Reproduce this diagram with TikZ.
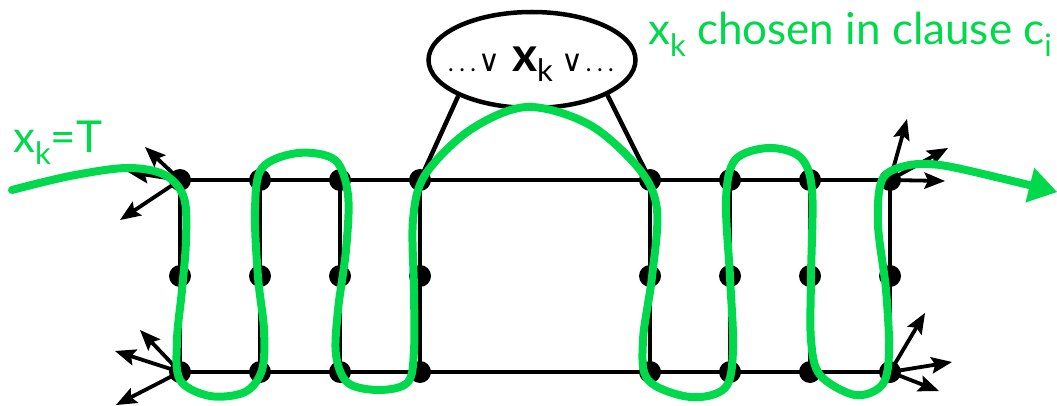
\documentclass[tikz,border=0pt]{standalone}
\usepackage{fontspec}
\setmainfont{Lato}
\newfontfamily\symfont{DejaVu Sans}
\usetikzlibrary{arrows.meta,shapes.geometric}
\definecolor{grn}{RGB}{0,217,76}
\newcommand{\gsub}[1]{\raisebox{-12pt}{\fontsize{31}{31}\selectfont #1}}
\newcommand{\smalldots}{{.}\hspace{5.5pt}{.}\hspace{5.5pt}{.}}
\newcommand{\orsym}{{\symfont\fontsize{30}{30}\selectfont ∨}}
\begin{document}
\begin{tikzpicture}[x=1pt,y=-1pt,
  edge/.style={line width=4.5pt},
  gdot/.style={circle,fill=black,draw=none,inner sep=0pt,minimum width=22pt,minimum height=22pt},
  outarrow/.style={line width=3.8pt,-{Stealth[length=21pt,width=17pt,inset=4pt,line width=0pt]}},
  cycle path/.style={grn,line width=8pt,line cap=round,-{Triangle[length=28pt,width=36pt,line width=0pt]}},
  lbl/.style={text=grn,inner sep=0pt,anchor=base west}]
\useasboundingbox (0,0) rectangle (1057,406);
% grid coordinates
\foreach \i/\x in {1/180,2/260,3/340,4/420,5/650,6/730,7/810,8/890}{
  \coordinate (t\i) at (\x,180);
  \coordinate (m\i) at (\x,276);
  \coordinate (b\i) at (\x,372);
}
\draw[edge] (t1) -- (t8);
\draw[edge] (b1) -- (b8);
\foreach \i in {1,...,8}{\draw[edge] (t\i) -- (b\i);}
% clause ellipse
\node[draw,ellipse,line width=4.5pt,fill=white,minimum width=207pt,minimum height=96pt,inner sep=0pt] (cl) at (532,60) {};
\draw[edge] (cl.206) -- (t4);
\draw[edge] (cl.-25) -- (t5);
\node[anchor=base,inner sep=0pt] (lit) at (531,72) {\fontsize{24}{24}\selectfont\smalldots\hspace{2pt}\orsym\hspace{12pt}\fontsize{48}{48}\selectfont\textbf{x}\raisebox{-10pt}{\fontsize{31}{31}\selectfont k}\hspace{9pt}\orsym\hspace{2pt}\fontsize{24}{24}\selectfont\smalldots};
% outgoing arrows
\coordinate (a1) at (145,147);
\coordinate (a2) at (128,172);
\coordinate (a3) at (120,220);
\coordinate (a4) at (140,330);
\coordinate (a5) at (115,351);
\coordinate (a6) at (116,405);
\coordinate (a7) at (907,119);
\coordinate (a8) at (948,148);
\coordinate (a9) at (945,181);
\coordinate (a10) at (925,313);
\coordinate (a11) at (952,362);
\coordinate (a12) at (939,391);
\foreach \a in {a1,a2,a3}{\draw[outarrow] (t1) -- (\a);}
\foreach \a in {a4,a5,a6}{\draw[outarrow] (b1) -- (\a);}
\foreach \a in {a7,a8,a9}{\draw[outarrow] (t8) -- (\a);}
\foreach \a in {a10,a11,a12}{\draw[outarrow] (b8) -- (\a);}
% dots
\foreach \i in {1,...,8}{
  \node[gdot] (T\i) at (t\i) {};
  \node[gdot] (M\i) at (m\i) {};
  \node[gdot] (B\i) at (b\i) {};
}
% green traversal
\draw[cycle path] plot[smooth,tension=0.55] coordinates {
(12,190) (70,176) (127,168) (165,175) (184,198) (186,240) (182,290) (177,340)
(180,380) (210,396) (245,392) (262,370) (264,330) (258,277) (255,210) (262,168)
(298,153) (335,160) (348,195) (346,250) (338,310) (336,355) (348,383) (380,390)
(408,382) (414,350) (414,290) (413,220) (425,175) (470,130) (527,107) (590,125)
(640,170) (657,210) (652,277) (643,340) (648,380) (690,397) (725,388) (733,350)
(730,277) (726,200) (735,160) (768,148) (800,157) (812,190) (811,277) (811,340)
(820,375) (855,395) (882,385) (889,353) (886,290) (878,225) (882,180) (905,166)
(940,165) (1000,178) (1057,192)};
% labels
\node[lbl] (xkT) at (13,153) {\fontsize{44}{44}\selectfont x\gsub{k}=T};
\node[lbl] (chosen) at (648,45) {\fontsize{44}{44}\selectfont x\gsub{k} chosen in clause c\gsub{i}};
\end{tikzpicture}
\end{document}
